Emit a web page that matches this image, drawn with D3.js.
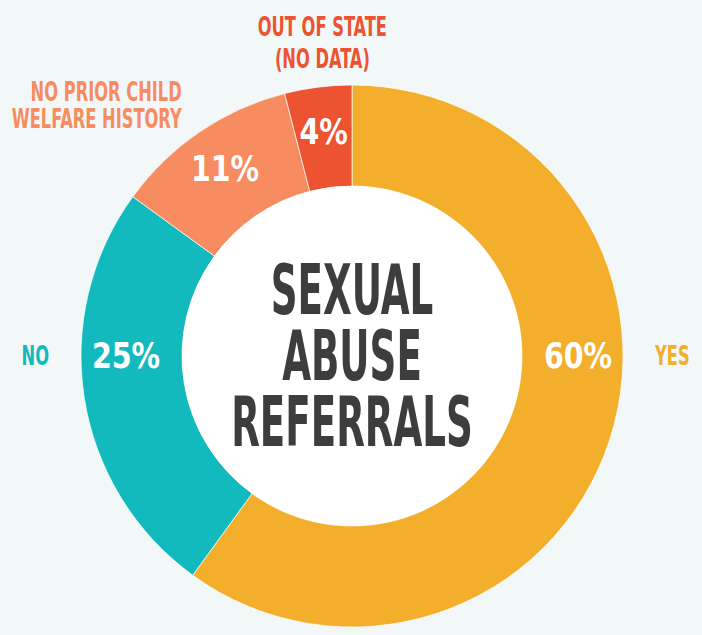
<!DOCTYPE html>
<html>
<head>
<meta charset="utf-8">
<script src="https://cdn.jsdelivr.net/npm/d3@7"></script>
<style>
  html, body { margin: 0; padding: 0; background: #f2f7f8; }
  svg { display: block; }
  text { font-family: "DejaVu Sans Condensed", "DejaVu Sans", sans-serif; font-weight: bold; }
</style>
</head>
<body>
<svg width="702" height="635"></svg>
<script>
// data
const categories = ["Yes", "No", "No prior child welfare history", "Out of state (no data)"];
const shares = [60, 25, 11, 4];
const outerLabels = [["YES"], ["NO"], ["NO PRIOR CHILD", "WELFARE HISTORY"], ["OUT OF STATE", "(NO DATA)"]];
const colors = ["#f3ae2b", "#13babd", "#f68c60", "#ec5331"];
const titleLines = ["SEXUAL", "ABUSE", "REFERRALS"];

const width = 702, height = 635;
const cx = 352, cy = 356;
const outerR = 271, innerR = 170;

const svg = d3.select("svg");
const g = svg.append("g").attr("transform", "translate(" + cx + "," + cy + ")");

const pie = d3.pie().sort(null).value(d => d.value);
const arcs = pie(categories.map((c, i) => ({name: c, value: shares[i], i: i})));
const arc = d3.arc().innerRadius(innerR).outerRadius(outerR);

g.selectAll("path.slice")
    .data(arcs)
    .enter().append("path")
    .attr("class", "slice")
    .attr("d", arc)
    .attr("fill", d => colors[d.data.i])
    .attr("stroke", "#ffffff")
    .attr("stroke-width", 0.7);

g.append("circle").attr("r", innerR).attr("fill", "#ffffff");

// label angle: horizontal when the slice covers 3 or 9 o'clock, otherwise mid slice
function labelAngle(d) {
    const quarter = Math.PI / 2;
    for (const a of [quarter, 3 * quarter]) {
        if (d.startAngle <= a && d.endAngle >= a) return a;
    }
    return (d.startAngle + d.endAngle) / 2;
}

// no condensed display face installed, so squash DejaVu sideways
function squeezedText(parent, x, y, str, size, anchor, fill, squeeze) {
    return parent.append("text")
        .attr("transform", "translate(" + x + "," + y + ") scale(" + squeeze + ",1)")
        .attr("text-anchor", anchor)
        .attr("dominant-baseline", "central")
        .attr("font-size", size)
        .attr("fill", fill)
        .text(str);
}

// percentages inside the ring
const midR = 226;
arcs.forEach(d => {
    const a = labelAngle(d);
    const x = Math.sin(a) * midR, y = -Math.cos(a) * midR;
    squeezedText(g, x, y, d.data.value + "%", 36, "middle", "#ffffff", 0.88);
});

// category labels outside the ring
const labR = 303;
arcs.forEach(d => {
    const a = labelAngle(d);
    const s = Math.sin(a);
    let r = labR, lineH = 27, dx = 0;
    let anchor = s > 0.3 ? "start" : (s < -0.3 ? "end" : "middle");
    if (anchor === "middle") { r = 316; lineH = 32; dx = 10; }
    const x = s * r + dx, y = -Math.cos(a) * r;
    const lines = outerLabels[d.data.i];
    lines.forEach((ln, k) => {
        const yy = y + (k - (lines.length - 1) / 2) * lineH;
        squeezedText(g, x, yy, ln, 27, anchor, colors[d.data.i], 0.67);
    });
});

// title in the hole
titleLines.forEach((t, k) => {
    squeezedText(g, 0, (k - 1) * 66, t, 69, "middle", "#3d3d3d", 0.6);
});
</script>
</body>
</html>
